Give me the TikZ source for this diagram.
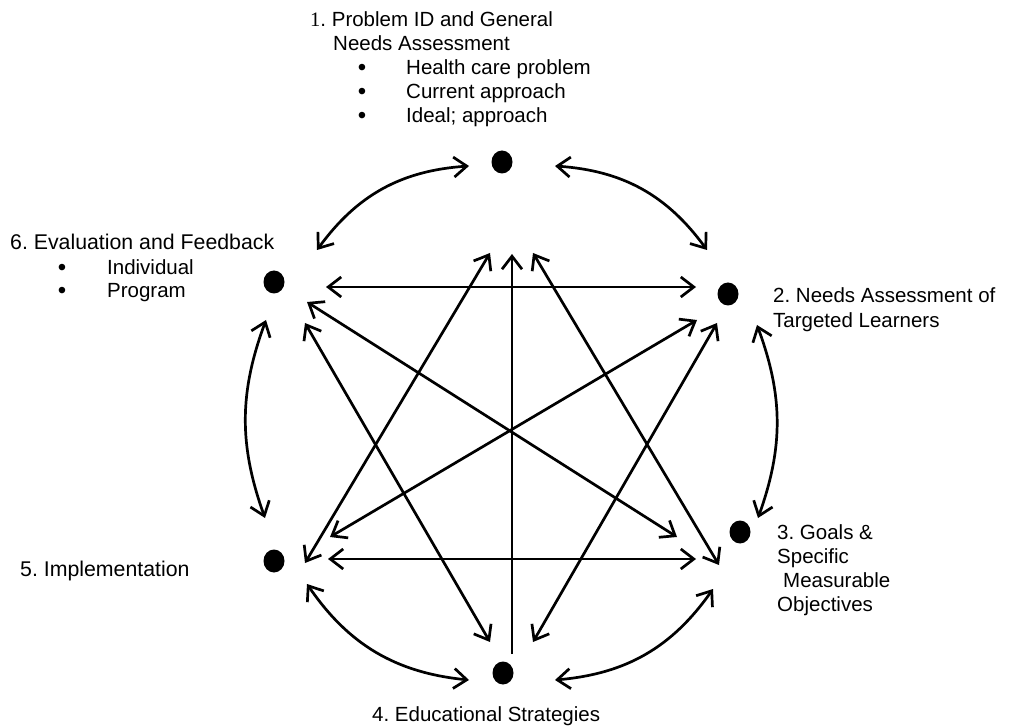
\documentclass[tikz,border=0pt]{standalone}
\usepackage{fontspec}
\setmainfont{Liberation Sans}
\newfontfamily\numfont{Liberation Serif}
\usetikzlibrary{arrows.meta,shapes.geometric}
\frenchspacing

\tikzset{
  dot/.style={ellipse, fill=black, inner sep=0pt, minimum width=21pt, minimum height=23pt},
  lbl/.style={anchor=base west, inner sep=0pt, font=\fontsize{20.5}{24}\selectfont},
  wide/.style={lbl, font=\fontsize{21.3}{24}\selectfont},
  bul/.style={anchor=base, inner sep=0pt, font=\fontsize{24}{24}\selectfont},
  barb/.tip={Straight Barb[length=13pt,width=20pt]},
  link/.style={line width=2.7pt, barb-barb},
  oneway/.style={line width=2.7pt, -barb},
}

\begin{document}
\begin{tikzpicture}[x=1pt,y=-1pt]
\useasboundingbox (0,0) rectangle (1013,727);

% the six stages
\node[dot] (n1) at (502,162) {};
\node[dot] (n2) at (728,294) {};
\node[dot] (n3) at (740,532) {};
\node[dot] (n4) at (503,673) {};
\node[dot] (n5) at (274,561) {};
\node[dot] (n6) at (274,282) {};

% stage labels
\node[lbl] (t1a) at (310,27)  {{\numfont 1}. Problem ID and General};
\node[lbl] (t1b) at (333,51)  {Needs Assessment};
\node[bul] (b1a) at (362,76)  {\textbullet};
\node[bul] (b1b) at (362,100) {\textbullet};
\node[bul] (b1c) at (362,124) {\textbullet};
\node[lbl] (t1c) at (406,75)  {Health care problem};
\node[lbl] (t1d) at (406,99)  {Current approach};
\node[lbl] (t1e) at (406,123) {Ideal; approach};

\node[lbl] (t2a) at (773,303) {2. Needs Assessment of};
\node[lbl] (t2b) at (773,328) {Targeted Learners};

\node[lbl] (t3a) at (777,539) {3. Goals \&};
\node[lbl] (t3b) at (777,563) {Specific};
\node[lbl] (t3c) at (783,587) {Measurable};
\node[lbl] (t3d) at (777,611) {Objectives};

\node[lbl] (t4)  at (372,721) {4. Educational Strategies};

\node[wide] (t5) at (20,576)  {5. Implementation};

\node[wide] (t6a) at (10,250) {6. Evaluation and Feedback};
\node[bul] (b6a) at (62,276)  {\textbullet};
\node[bul] (b6b) at (62,299)  {\textbullet};
\node[lbl] (t6b) at (107,275) {Individual};
\node[lbl] (t6c) at (107,298) {Program};

% connector ends beside each stage
\coordinate (a63) at (307,302); \coordinate (a36) at (677,537);
\coordinate (a64) at (305,323); \coordinate (a46) at (490,642);
\coordinate (a51) at (305,563); \coordinate (a15) at (490,253);
\coordinate (a52) at (330,537); \coordinate (a25) at (697,320);
\coordinate (a42) at (533,642); \coordinate (a24) at (717,323);
\coordinate (a31) at (719,565); \coordinate (a13) at (533,253);
\coordinate (a41) at (512,654); \coordinate (a14) at (512,254);
\coordinate (a62) at (326,287); \coordinate (a26) at (696,287);
\coordinate (a53) at (328,559); \coordinate (a35) at (696,559);

\coordinate (c16) at (469,166); \coordinate (c61) at (317,250);
\coordinate (c12) at (555,166); \coordinate (c21) at (707,250);
\coordinate (c23) at (757,325); \coordinate (c32) at (758,518);
\coordinate (c65) at (266,320); \coordinate (c56) at (265,518);
\coordinate (c54) at (307,584); \coordinate (c45) at (469,680);
\coordinate (c43) at (555,680); \coordinate (c34) at (713,589);

% links across the cycle
\draw[link] (a63) -- (a36);
\draw[link] (a64) -- (a46);
\draw[link] (a51) -- (a15);
\draw[link] (a52) -- (a25);
\draw[link] (a42) -- (a24);
\draw[link] (a31) -- (a13);
\draw[link] (a62) -- (a26);
\draw[link] (a53) -- (a35);
\draw[oneway] (a41) -- (a14);

% links between neighbouring stages
\draw[link] (c16) to[bend right=25] (c61);
\draw[link] (c12) to[bend left=25]  (c21);
\draw[link] (c23) to[bend left=20]  (c32);
\draw[link] (c65) to[bend right=20] (c56);
\draw[link] (c54) to[bend right=25] (c45);
\draw[link] (c43) to[bend right=25] (c34);
\end{tikzpicture}
\end{document}
